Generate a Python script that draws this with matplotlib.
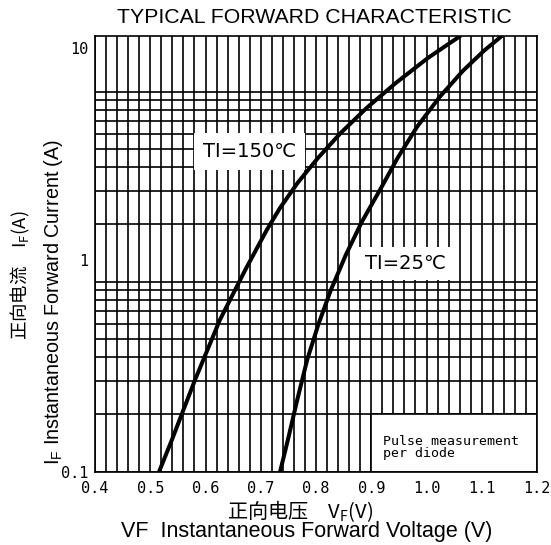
import matplotlib
matplotlib.use("Agg")
import matplotlib.pyplot as plt
from matplotlib.ticker import MultipleLocator, LogLocator, NullFormatter
from matplotlib.patches import Rectangle

# forward voltage (V) and forward current (A)
vf_150 = [0.516, 0.539, 0.581, 0.626, 0.672, 0.711, 0.735, 0.767, 0.804, 0.845,
          0.892, 0.945, 1.003, 1.062]
if_150 = [0.1, 0.141, 0.271, 0.52, 0.896, 1.383, 1.757, 2.31, 3.03, 3.97,
          5.21, 6.84, 8.97, 11.4]
vf_25 = [0.735, 0.749, 0.766, 0.784, 0.804, 0.827, 0.854, 0.883, 0.916, 0.948,
         0.983, 1.024, 1.066, 1.104, 1.137]
if_25 = [0.1, 0.141, 0.218, 0.337, 0.493, 0.721, 1.054, 1.51, 2.14, 3.03,
         4.24, 5.87, 7.79, 9.68, 11.4]

x_ticks = [0.4, 0.5, 0.6, 0.7, 0.8, 0.9, 1.0, 1.1, 1.2]
x_tick_labels = ["0.4", "0.5", "0.6", "0.7", "0.8", "0.9", "1.0", "1.1", "1.2"]
y_ticks = [0.1, 1, 10]
y_tick_labels = ["0.1", "1", "10"]

W, H = 551, 545
fig = plt.figure(figsize=(W / 100, H / 100), dpi=100)
rect = [95 / W, 1 - 471.7 / H, 442 / W, 436 / H]

# the printed grid does not follow the tick labels, so it lives on its own axes
gax = fig.add_axes(rect)
gax.set_xlim(0.4, 1.2)
gax.set_yscale("log")
gax.set_ylim(0.1, 19.7)
gax.xaxis.set_major_locator(MultipleLocator(0.1))
gax.xaxis.set_minor_locator(MultipleLocator(0.02))
gax.yaxis.set_major_locator(LogLocator(base=10))
gax.yaxis.set_minor_locator(LogLocator(base=10, subs=range(2, 10)))
gax.yaxis.set_minor_formatter(NullFormatter())
gax.tick_params(which="both", length=0, labelleft=False, labelbottom=False)
gax.set_axisbelow(True)
gax.grid(which="both", color="black", lw=1.2)
for s in gax.spines.values():
    s.set_visible(False)
# note box in the lower right corner
gax.add_patch(Rectangle((0.9, 0.1), 0.3, 0.1, facecolor="white",
                        edgecolor="black", lw=1.2, zorder=2))

# data axes on top
ax = fig.add_axes(rect)
ax.patch.set_facecolor("none")
ax.set_xlim(0.4, 1.2)
ax.set_yscale("log")
ax.set_ylim(0.1, 11.4)
ax.plot(vf_150, if_150, color="black", lw=2.9, solid_capstyle="butt")
ax.plot(vf_25, if_25, color="black", lw=2.9, solid_capstyle="butt")

ax.set_xticks(x_ticks)
ax.set_xticklabels(x_tick_labels, family="DejaVu Sans Mono", fontsize=11)
ax.set_yticks(y_ticks)
ax.set_yticklabels(y_tick_labels, family="DejaVu Sans Mono", fontsize=11)
ax.yaxis.set_minor_locator(LogLocator(base=10, subs=[]))
ax.tick_params(which="both", length=0)
ax.tick_params(axis="x", pad=7)
ax.tick_params(axis="y", pad=5)
for s in ax.spines.values():
    s.set_linewidth(1.2)

# curve labels, white boxes hide the grid behind them
ax.text(0.680, 3.24, "TI=150℃", fontsize=14, ha="center", va="center",
        family=["DejaVu Sans", "Noto Sans CJK SC"],
        bbox=dict(boxstyle="square,pad=0.45", facecolor="white", edgecolor="none"))
ax.text(0.961, 0.963, "TI=25℃", fontsize=14, ha="center", va="center",
        family=["DejaVu Sans", "Noto Sans CJK SC"],
        bbox=dict(boxstyle="square,pad=0.35", facecolor="white", edgecolor="none"))
ax.text(0.921, 0.130, "Pulse measurement\nper diode", fontsize=9.5,
        family="DejaVu Sans Mono", ha="left", va="center", linespacing=0.95)

# titles and axis labels
fig.text(314 / W, 1 - 17.5 / H, "TYPICAL FORWARD CHARACTERISTIC",
         ha="center", va="center", fontsize=15.3, family="Liberation Sans")
fig.text(20 / W, 1 - 275.5 / H, "正向电流　$\\mathregular{I_F}$(A)", rotation=90,
         ha="center", va="center", fontsize=13.3, family="Noto Sans CJK SC")
fig.text(54 / W, 1 - 302 / H, "$\\mathregular{I_F}$ Instantaneous Forward Current (A)",
         rotation=90, ha="center", va="center", fontsize=14.2, family="Liberation Sans")
fig.text(300 / W, 1 - 511 / H, "正向电压　$\\mathregular{V_F}$(V)",
         ha="center", va="center", fontsize=14.5, family="Noto Sans CJK SC")
fig.text(307 / W, 1 - 532 / H, "VF  Instantaneous Forward Voltage (V)",
         ha="center", va="center", fontsize=15.5, family="Liberation Sans")

fig.savefig("out.png", dpi=100)
